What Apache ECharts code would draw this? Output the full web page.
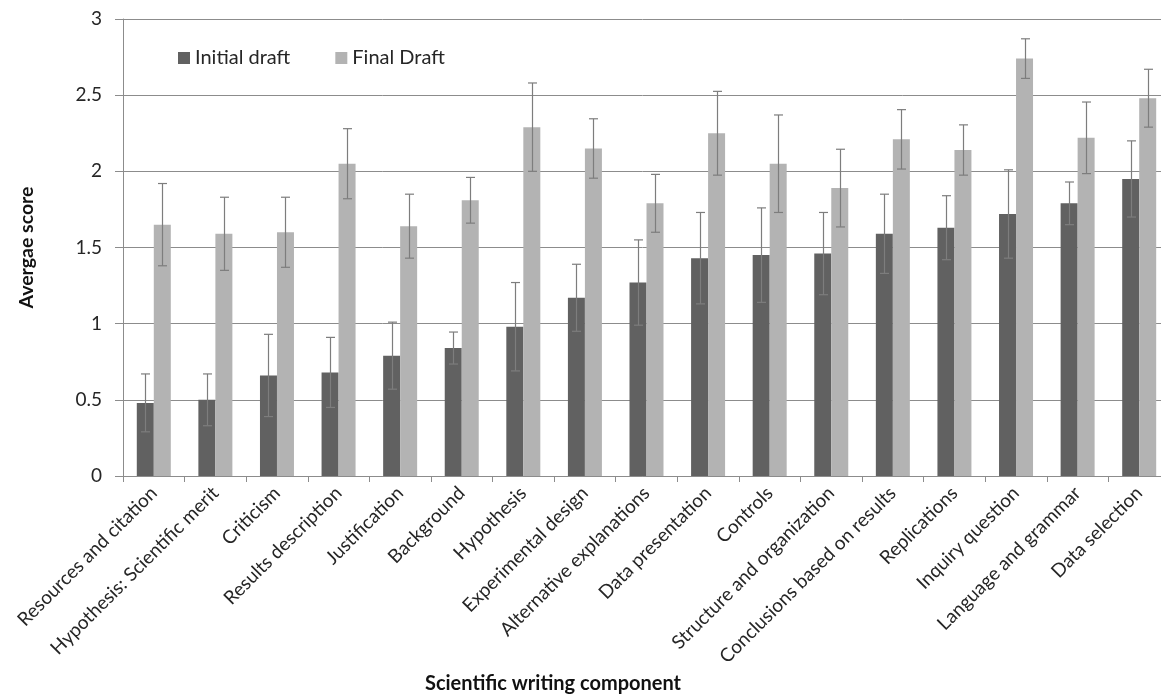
<!DOCTYPE html>
<html>
<head>
<meta charset="utf-8">
<script src="https://cdn.jsdelivr.net/npm/echarts@6/dist/echarts.min.js"></script>
<style>
  html, body { margin: 0; padding: 0; background: #fff; }
  #chart { width: 1161px; height: 695px; }
</style>
</head>
<body>
<div id="chart"></div>
<script>
// Scientific writing components (x axis categories)
const categories = [
  'Resources and citation', 'Hypothesis: Scientific merit', 'Criticism',
  'Results description', 'Justification', 'Background', 'Hypothesis',
  'Experimental design', 'Alternative explanations', 'Data presentation',
  'Controls', 'Structure and organization', 'Conclusions based on results',
  'Replications', 'Inquiry question', 'Language and grammar', 'Data selection'
];

// Average scores
const initialDraft = [0.48, 0.50, 0.66, 0.68, 0.79, 0.84, 0.98, 1.17, 1.27, 1.43, 1.45, 1.46, 1.59, 1.63, 1.72, 1.79, 1.95];
const finalDraft   = [1.65, 1.59, 1.60, 2.05, 1.64, 1.81, 2.29, 2.15, 1.79, 2.25, 2.05, 1.89, 2.21, 2.14, 2.74, 2.22, 2.48];

// Error bar half-widths
const initialErr = [0.19, 0.17, 0.27, 0.23, 0.22, 0.105, 0.29, 0.22, 0.28, 0.30, 0.31, 0.27, 0.26, 0.21, 0.29, 0.14, 0.25];
const finalErr   = [0.27, 0.24, 0.23, 0.23, 0.21, 0.15, 0.29, 0.195, 0.19, 0.275, 0.32, 0.255, 0.195, 0.165, 0.13, 0.235, 0.19];

// Y axis ticks
const yMin = 0, yMax = 3, yStep = 0.5;

const FONT = 'Lato, "Open Sans", sans-serif';
const TEXT_COLOR = '#262626';
const LINE_COLOR = '#8c8c8c';
const BAR_W = 17;
const ERR_COLOR = '#7d7d7d';

// Whisker with caps, centred on one bar of the pair
function errorSeries(values, errs, offset) {
  return {
    type: 'custom',
    silent: true,
    z: 5,
    data: values.map((v, i) => [i, v - errs[i], v + errs[i]]),
    encode: { x: 0, y: [1, 2] },
    renderItem: function (params, api) {
      const idx = api.value(0);
      const lo = api.coord([idx, api.value(1)]);
      const hi = api.coord([idx, api.value(2)]);
      const x = Math.round(lo[0] + offset) + 0.5;
      const half = 4.5;
      const style = { stroke: ERR_COLOR, lineWidth: 1.2, fill: null };
      return {
        type: 'group',
        children: [
          { type: 'line', shape: { x1: x, y1: hi[1], x2: x, y2: lo[1] }, style: style },
          { type: 'line', shape: { x1: x - half, y1: hi[1], x2: x + half, y2: hi[1] }, style: style },
          { type: 'line', shape: { x1: x - half, y1: lo[1], x2: x + half, y2: lo[1] }, style: style }
        ]
      };
    }
  };
}

const chart = echarts.init(document.getElementById('chart'), null, { renderer: 'canvas' });

chart.setOption({
  backgroundColor: '#ffffff',
  animation: false,
  textStyle: { fontFamily: FONT },
  legend: {
    left: 178, top: 48, padding: 0,
    itemWidth: 12, itemHeight: 12, itemGap: 45,
    icon: 'rect',
    textStyle: { fontFamily: FONT, fontSize: 20, color: TEXT_COLOR },
    data: ['Initial draft', 'Final Draft']
  },
  grid: {
    left: 123, top: 19, width: 1047, height: 457,
    containLabel: false, outerBoundsMode: 'none'
  },
  graphic: [{
    type: 'text',
    x: 553, y: 684,
    style: {
      text: 'Scientific writing component',
      font: 'bold 20px ' + FONT,
      fill: '#111',
      align: 'center', verticalAlign: 'middle'
    }
  }],
  xAxis: {
    type: 'category',
    data: categories,
    axisLine: { lineStyle: { color: LINE_COLOR, width: 1 } },
    axisTick: { show: true, length: 6, lineStyle: { color: LINE_COLOR } },
    axisLabel: { interval: 0, rotate: 45, fontFamily: FONT, fontSize: 19, color: TEXT_COLOR, margin: 14 },
    splitLine: { show: false }
  },
  yAxis: {
    type: 'value',
    min: yMin, max: yMax, interval: yStep,
    name: 'Avergae score',
    nameLocation: 'middle',
    nameGap: 86,
    nameRotate: 90,
    nameTextStyle: { fontFamily: FONT, fontSize: 19.5, fontWeight: 'bold', color: '#111' },
    axisLine: { show: true, lineStyle: { color: LINE_COLOR, width: 1 } },
    axisTick: { show: true, length: 8, lineStyle: { color: LINE_COLOR } },
    axisLabel: { fontFamily: FONT, fontSize: 19, color: TEXT_COLOR, margin: 21 },
    splitLine: { show: true, lineStyle: { color: LINE_COLOR, width: 1 } }
  },
  series: [
    {
      name: 'Initial draft', type: 'bar', data: initialDraft,
      barWidth: BAR_W, barGap: '0%',
      itemStyle: { color: '#616161' }
    },
    {
      name: 'Final Draft', type: 'bar', data: finalDraft,
      barWidth: BAR_W, barGap: '0%',
      itemStyle: { color: '#b3b3b3' }
    },
    errorSeries(initialDraft, initialErr, -BAR_W / 2),
    errorSeries(finalDraft, finalErr, BAR_W / 2)
  ]
});
</script>
</body>
</html>
